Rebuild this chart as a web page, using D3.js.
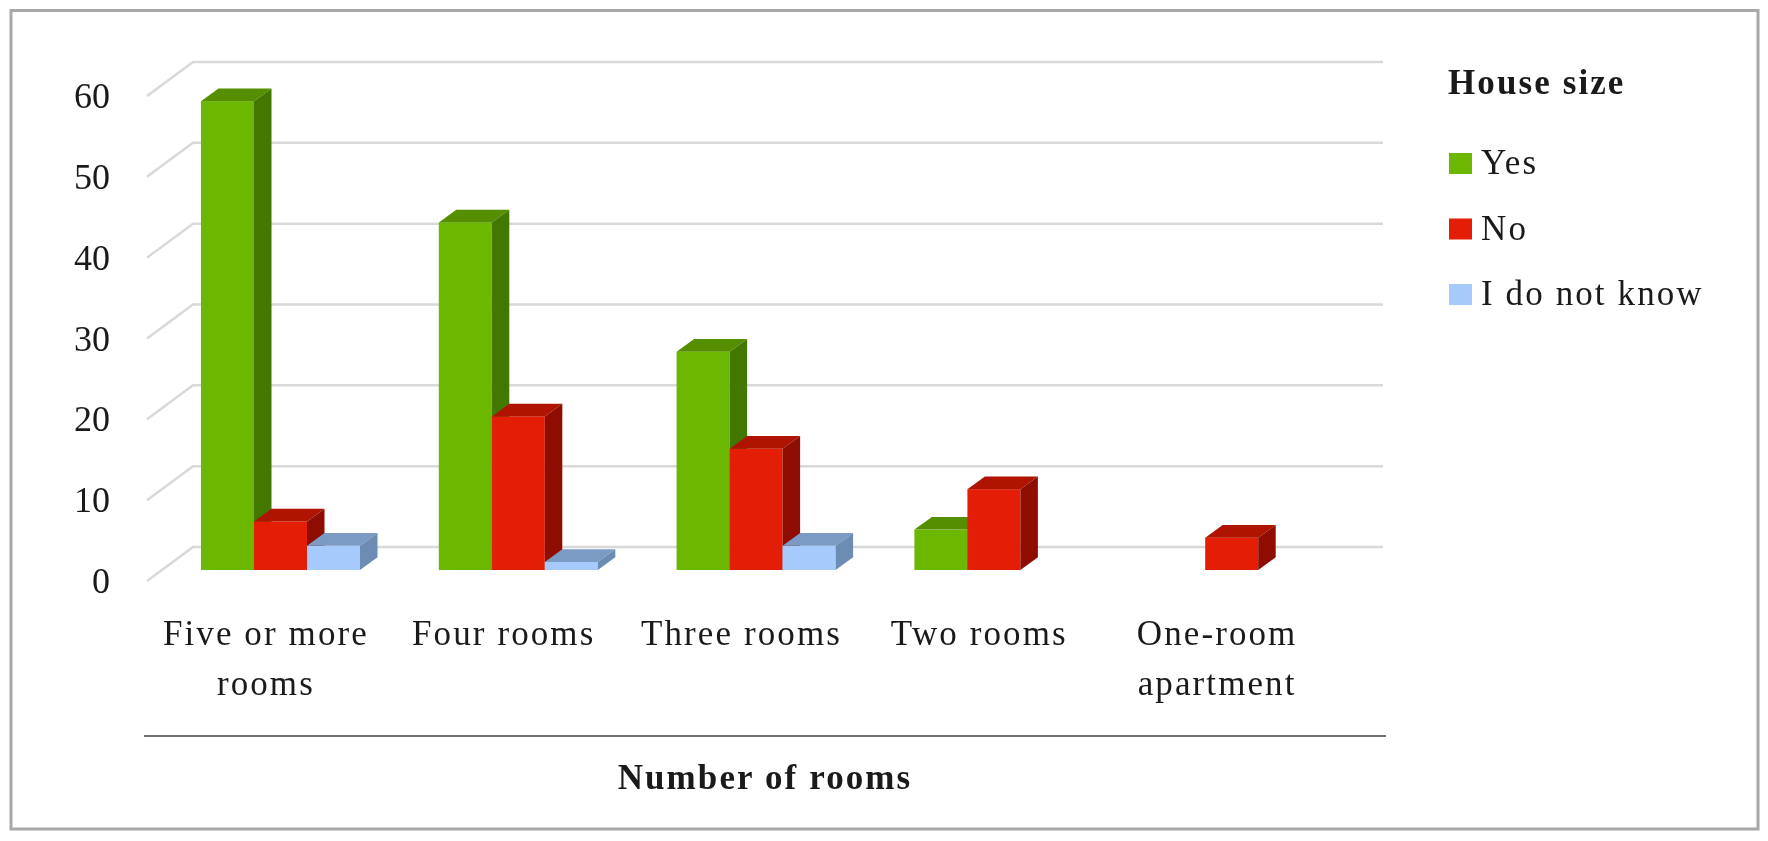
<!DOCTYPE html>
<html>
<head>
<meta charset="utf-8">
<script src="https://d3js.org/d3.v7.min.js"></script>
<style>
  html, body { margin: 0; background: #fff; }
  svg { display: block; filter: blur(0.5px); }
  text { font-family: "Liberation Serif", serif; fill: #1a1a1a; }
  .label { font-size: 35px; letter-spacing: 2.1px; }
  .num { font-size: 36px; }
</style>
</head>
<body>
<div id="container"></div>
<script>
// data

const categories = ["Five or more rooms", "Four rooms", "Three rooms", "Two rooms", "One-room apartment"];
const seriesNames = ["Yes", "No", "I do not know"];
const yesValues = [58, 43, 27, 5, 0];
const noValues = [6, 19, 15, 10, 4];
const dontKnowValues = [3, 1, 3, 0, 0];
const yTicks = [0, 10, 20, 30, 40, 50, 60];
const legendTitle = "House size";
const xTitle = "Number of rooms";

// variables

const width = 1768;
const height = 841;

const frontColors = ["#6cb800", "#e41e06", "#a6cafc"];
const topColors = ["#558f00", "#ae1400", "#7b9bc4"];
const sideColors = ["#437800", "#8f0c00", "#6c8cb3"];

// floor goes back by this much, bars sit half way in
const wallDx = 46, wallDy = -34;
const barDx = 15, barDy = -11;
const depthDx = 17.5, depthDy = -12.7;

// scales

const yScale = d3.scaleLinear()
    .domain([0, 60])
    .range([581, 96]);

const xScale = d3.scaleBand()
    .domain(categories)
    .range([147, 1336]);

const groupScale = d3.scaleBand()
    .domain(seriesNames)
    .range([39, 198]);

const svg = d3.select("#container")
    .append("svg")
    .attr("width", width)
    .attr("height", height);

// frame

svg.append("rect")
    .attr("x", 11).attr("y", 10.5)
    .attr("width", 1747).attr("height", 818.5)
    .attr("fill", "#fff")
    .attr("stroke", "#a8a8a8")
    .attr("stroke-width", 3);

// gridlines: side wall diagonal + back wall

const x0 = xScale.range()[0];
const x1 = xScale.range()[1];

svg.append("g")
    .selectAll("path")
    .data(yTicks)
    .join("path")
    .attr("d", d => `M${x0},${yScale(d)}L${x0 + wallDx},${yScale(d) + wallDy}L${x1 + wallDx + 1},${yScale(d) + wallDy}`)
    .attr("fill", "none")
    .attr("stroke", "#d9d9d9")
    .attr("stroke-width", 2.5);

// bars, drawn left to right so later ones cover the earlier side faces

const allValues = [yesValues, noValues, dontKnowValues];
const barData = [];
categories.forEach((c, i) => {
    seriesNames.forEach((s, j) => {
        if (allValues[j][i] > 0) barData.push({ category: c, series: s, index: j, value: allValues[j][i] });
    });
});

const bars = svg.append("g")
    .selectAll("g")
    .data(barData)
    .join("g")
    .attr("transform", d => `translate(${xScale(d.category) + groupScale(d.series) + barDx},${barDy})`);

const barW = groupScale.bandwidth();

bars.append("rect")
    .attr("width", barW)
    .attr("y", d => yScale(d.value))
    .attr("height", d => yScale(0) - yScale(d.value))
    .attr("fill", d => frontColors[d.index]);

bars.append("path")
    .attr("d", d => {
        const t = yScale(d.value);
        return `M0,${t}L${depthDx},${t + depthDy}H${barW + depthDx}L${barW},${t}Z`;
    })
    .attr("fill", d => topColors[d.index]);

bars.append("path")
    .attr("d", d => {
        const t = yScale(d.value), b = yScale(0);
        return `M${barW},${t}L${barW + depthDx},${t + depthDy}V${b + depthDy}L${barW},${b}Z`;
    })
    .attr("fill", d => sideColors[d.index]);

// axes

const yAxis = svg.append("g")
    .attr("transform", "translate(110,0)")
    .call(d3.axisLeft(yScale).tickValues(yTicks).tickSize(0).tickPadding(0));
yAxis.select(".domain").remove();
yAxis.attr("font-family", null).attr("font-size", null);
yAxis.selectAll("text").attr("class", "num");

const xAxis = svg.append("g")
    .attr("transform", "translate(0,645)")
    .call(d3.axisBottom(xScale).tickSize(0).tickPadding(0));
xAxis.select(".domain").remove();
xAxis.attr("font-family", null).attr("font-size", null);
xAxis.selectAll("text")
    .attr("class", "label")
    .attr("y", 0)
    .attr("dy", 0)
    .each(function (d) {
        // wrap long names on two lines
        const words = d.split(" ");
        const el = d3.select(this).text(null);
        let lines = [d];
        if (words.length > 2) lines = [words.slice(0, -1).join(" "), words[words.length - 1]];
        else if (d.length > 12) lines = words;
        lines.forEach((l, i) => {
            el.append("tspan").attr("x", 0).attr("y", i * 50).text(l);
        });
    });

// line under the labels + title

svg.append("line")
    .attr("x1", 144).attr("x2", 1386)
    .attr("y1", 736).attr("y2", 736)
    .attr("stroke", "#404040")
    .attr("stroke-width", 1.5);

svg.append("text")
    .attr("class", "label")
    .attr("x", 765).attr("y", 789)
    .attr("text-anchor", "middle")
    .attr("font-weight", "bold")
    .text(xTitle);

// legend

const legendY = d3.scalePoint()
    .domain(seriesNames)
    .range([174, 305]);

svg.append("text")
    .attr("class", "label")
    .attr("x", 1448).attr("y", 94)
    .attr("font-weight", "bold")
    .text(legendTitle);

const legend = svg.append("g")
    .selectAll("g")
    .data(seriesNames)
    .join("g")
    .attr("transform", d => `translate(1449,${legendY(d)})`);

legend.append("rect")
    .attr("y", -21)
    .attr("width", 23)
    .attr("height", 21)
    .attr("fill", (d, i) => frontColors[i]);

legend.append("text")
    .attr("class", "label")
    .attr("x", 32)
    .attr("y", 0)
    .text(d => d);
</script>
</body>
</html>
